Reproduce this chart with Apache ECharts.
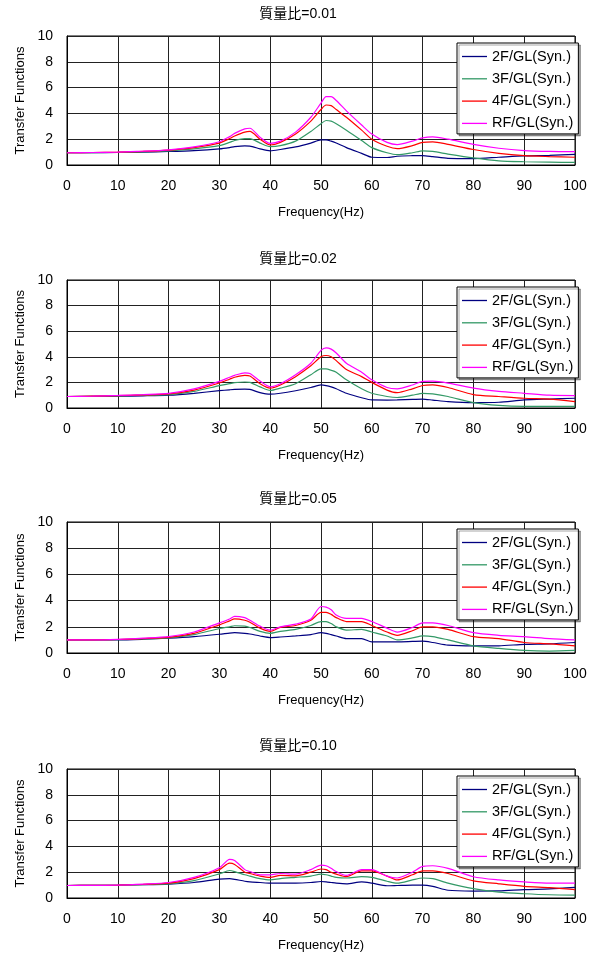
<!DOCTYPE html>
<html>
<head>
<meta charset="utf-8">
<script src="https://cdn.jsdelivr.net/npm/echarts@6/dist/echarts.min.js"></script>
<style>
html,body{margin:0;padding:0;background:#fff;}
#chart{width:598px;height:955px;}
</style>
</head>
<body>
<div id="chart"></div>
<script>
// Frequency (Hz) sample points shared by all panels
const freq = [0,5,10,15,20,25,30,32,33,35,36,38,40,42,45,48,50,51,52,53,55,58,60,63,65,68,70,72,75,80,85,90,95,100];

const seriesNames = ['2F/GL(Syn.)','3F/GL(Syn.)','4F/GL(Syn.)','RF/GL(Syn.)'];
const panelTitles = ['質量比=0.01','質量比=0.02','質量比=0.05','質量比=0.10'];
const xTicks = [0,10,20,30,40,50,60,70,80,90,100];
const yTicks = [0,2,4,6,8,10];

// Mass ratio 0.01
const r001_2F = [0.95,0.95,0.97,1.0,1.05,1.12,1.25,1.35,1.42,1.48,1.47,1.25,1.1,1.2,1.4,1.7,1.95,1.95,1.85,1.7,1.35,0.9,0.6,0.58,0.68,0.72,0.73,0.65,0.52,0.5,0.6,0.7,0.75,0.83];
const r001_3F = [0.95,0.96,0.98,1.02,1.1,1.25,1.5,1.75,1.9,2.05,2.05,1.7,1.42,1.5,1.85,2.6,3.2,3.45,3.4,3.2,2.7,1.9,1.35,0.95,0.8,0.95,1.1,1.05,0.85,0.55,0.32,0.25,0.22,0.2];
const r001_4F = [0.95,0.97,1.0,1.05,1.15,1.35,1.7,2.05,2.25,2.55,2.6,2.0,1.55,1.75,2.4,3.4,4.3,4.65,4.6,4.3,3.7,2.7,2.0,1.45,1.27,1.5,1.75,1.8,1.6,1.2,0.9,0.72,0.65,0.6];
const r001_RF = [0.95,0.97,1.0,1.07,1.18,1.4,1.8,2.2,2.45,2.8,2.85,2.15,1.68,1.85,2.55,3.7,4.8,5.3,5.3,5.0,4.2,3.1,2.4,1.75,1.58,1.85,2.1,2.18,2.0,1.6,1.3,1.12,1.05,1.03];

// Mass ratio 0.02
const r002_2F = [0.9,0.9,0.92,0.95,1.0,1.15,1.35,1.42,1.45,1.47,1.45,1.2,1.08,1.15,1.35,1.6,1.8,1.75,1.65,1.5,1.15,0.8,0.63,0.62,0.63,0.68,0.7,0.62,0.5,0.42,0.45,0.63,0.7,0.76];
const r002_3F = [0.9,0.92,0.95,1.0,1.05,1.3,1.75,1.9,1.98,2.03,2.0,1.65,1.37,1.55,1.9,2.6,3.05,3.05,2.95,2.8,2.2,1.5,1.15,0.9,0.82,1.0,1.15,1.1,0.9,0.42,0.2,0.13,0.13,0.13];
const r002_4F = [0.9,0.93,0.97,1.02,1.1,1.4,1.95,2.25,2.4,2.55,2.5,1.9,1.55,1.8,2.45,3.3,4.0,4.1,4.0,3.7,3.0,2.45,2.0,1.4,1.2,1.5,1.76,1.8,1.6,1.05,0.9,0.76,0.7,0.5];
const r002_RF = [0.9,0.93,0.98,1.05,1.15,1.5,2.08,2.4,2.55,2.75,2.7,2.1,1.66,1.9,2.6,3.5,4.5,4.7,4.6,4.3,3.5,2.8,2.2,1.6,1.5,1.8,2.08,2.1,1.95,1.55,1.3,1.15,1.0,0.97];

// Mass ratio 0.05
const r005_2F = [1.0,1.0,1.0,1.05,1.13,1.25,1.43,1.52,1.55,1.5,1.45,1.3,1.18,1.22,1.3,1.4,1.56,1.5,1.4,1.3,1.1,1.1,0.85,0.85,0.85,0.88,0.9,0.8,0.6,0.54,0.55,0.66,0.7,0.8];
const r005_3F = [1.0,1.0,1.02,1.07,1.15,1.4,1.87,2.0,2.08,2.05,1.95,1.65,1.5,1.65,1.8,2.1,2.4,2.4,2.25,2.0,1.75,1.8,1.6,1.3,1.0,1.15,1.3,1.25,1.0,0.55,0.35,0.2,0.15,0.2];
const r005_4F = [1.0,1.0,1.03,1.1,1.2,1.5,2.15,2.45,2.6,2.5,2.35,1.9,1.65,1.95,2.1,2.5,3.1,3.1,2.95,2.7,2.4,2.4,2.1,1.6,1.35,1.7,2.0,2.0,1.8,1.25,1.1,0.8,0.7,0.55];
const r005_RF = [1.0,1.0,1.04,1.13,1.25,1.6,2.3,2.6,2.8,2.7,2.5,2.05,1.75,2.0,2.2,2.6,3.55,3.5,3.3,2.9,2.65,2.65,2.4,1.9,1.6,1.95,2.3,2.3,2.1,1.55,1.35,1.25,1.1,1.0];

// Mass ratio 0.10
const r010_2F = [0.97,0.98,1.0,1.03,1.08,1.2,1.46,1.5,1.45,1.3,1.25,1.2,1.15,1.15,1.15,1.2,1.28,1.25,1.2,1.15,1.1,1.25,1.15,0.95,0.97,1.0,1.0,0.9,0.6,0.54,0.55,0.65,0.7,0.82];
const r010_3F = [0.97,0.98,1.0,1.04,1.1,1.35,1.87,2.13,2.05,1.8,1.7,1.5,1.4,1.5,1.6,1.7,1.85,1.8,1.7,1.6,1.55,1.65,1.6,1.3,1.15,1.4,1.55,1.5,1.15,0.72,0.45,0.33,0.25,0.23];
const r010_4F = [0.97,0.98,1.0,1.06,1.15,1.5,2.2,2.7,2.6,2.0,1.9,1.7,1.6,1.75,1.72,2.0,2.25,2.2,2.0,1.85,1.65,2.1,2.1,1.7,1.4,1.8,2.1,2.1,1.9,1.33,1.1,0.9,0.8,0.65];
const r010_RF = [0.97,0.98,1.0,1.08,1.2,1.6,2.35,3.0,2.9,2.2,2.05,1.8,1.8,1.9,1.85,2.2,2.55,2.5,2.3,2.05,1.75,2.2,2.2,1.7,1.55,2.0,2.45,2.5,2.3,1.65,1.4,1.25,1.15,1.15];

const panels = [
  [r001_2F, r001_3F, r001_4F, r001_RF],
  [r002_2F, r002_3F, r002_4F, r002_RF],
  [r005_2F, r005_3F, r005_4F, r005_RF],
  [r010_2F, r010_3F, r010_4F, r010_RF]
];

const colors = ['#000080','#339966','#FF0000','#FF00FF'];
const FONT = '"Liberation Sans", Arial, sans-serif';
const CJK = '"Liberation Sans", "Noto Sans CJK JP", sans-serif';

const gridTops = [36, 280, 522, 769];
const gridHeights = [129, 128, 131, 129];
const titleTops = [2, 247, 487, 734];

const option = {
  animation: false,
  backgroundColor: '#fff',
  title: [], grid: [], xAxis: [], yAxis: [], legend: [], series: []
};

panels.forEach((p, i) => {
  option.title.push({
    text: panelTitles[i], left: 293, top: titleTops[i], textAlign: 'center',
    textStyle: { fontFamily: CJK, fontSize: 14, fontWeight: 'normal', color: '#000' }
  });
  option.grid.push({
    left: 67, top: gridTops[i], width: 508, height: gridHeights[i],
    show: true, borderColor: '#000', borderWidth: 1, backgroundColor: '#fff'
  });
  option.xAxis.push({
    type: 'value', gridIndex: i, min: xTicks[0], max: xTicks[xTicks.length-1], interval: 10,
    name: 'Frequency(Hz)', nameLocation: 'middle', nameGap: 41,
    nameTextStyle: { fontFamily: FONT, fontSize: 13, color: '#000' },
    axisLine: { show: true, lineStyle: { color: '#000' } },
    axisTick: { show: false },
    axisLabel: { fontFamily: FONT, fontSize: 14, color: '#000', margin: 14 },
    splitLine: { show: true, lineStyle: { color: '#222', width: 1 } }
  });
  option.yAxis.push({
    type: 'value', gridIndex: i, min: yTicks[0], max: yTicks[yTicks.length-1], interval: 2,
    name: 'Transfer Functions', nameLocation: 'middle', nameGap: 38,
    nameTextStyle: { fontFamily: FONT, fontSize: 13, color: '#000' },
    axisLine: { show: true, lineStyle: { color: '#000' } },
    axisTick: { show: false },
    axisLabel: { fontFamily: FONT, fontSize: 14, color: '#000', margin: 14 },
    splitLine: { show: true, lineStyle: { color: '#222', width: 1 } }
  });
  option.legend.push({
    data: seriesNames.map((n, k) => ({
      name: n,
      icon: 'path://M0,0 L25,0 L25,1.3 L0,1.3 Z',
      itemStyle: { color: colors[k], borderWidth: 0 }
    })),
    orient: 'vertical', left: 457, top: gridTops[i] + 7,
    itemWidth: 25, itemHeight: 14, itemGap: 7.3,
    padding: [6, 5, 3, 5],
    backgroundColor: '#fff', borderColor: '#000', borderWidth: 1,
    shadowColor: 'rgba(0,0,0,0.35)', shadowOffsetX: 2, shadowOffsetY: 2, shadowBlur: 0,
    selectedMode: false,
    textStyle: { fontFamily: FONT, fontSize: 14.5, color: '#000' }
  });
  p.forEach((vals, k) => {
    option.series.push({
      name: seriesNames[k], type: 'line', xAxisIndex: i, yAxisIndex: i,
      data: freq.map((f, j) => [f, vals[j]]),
      showSymbol: false, symbol: 'none', smooth: 0.25,
      lineStyle: { color: colors[k], width: 1.2 },
      itemStyle: { color: colors[k] }
    });
  });
});

const chart = echarts.init(document.getElementById('chart'), null, { renderer: 'canvas' });
chart.setOption(option);
</script>
</body>
</html>
